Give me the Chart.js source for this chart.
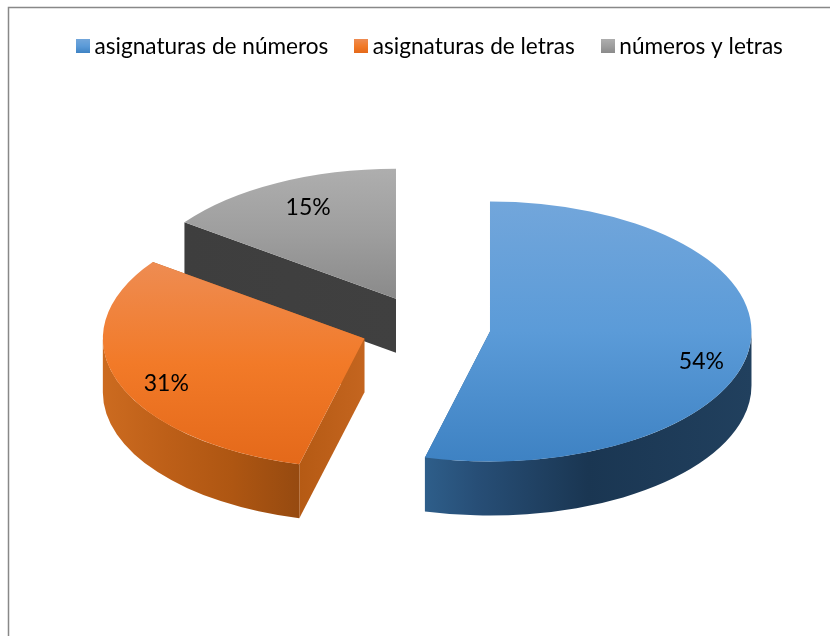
<!DOCTYPE html>
<html><head><meta charset="utf-8">
<style>html,body{margin:0;padding:0;background:#fff}canvas{display:block}</style>
<script src="https://cdn.jsdelivr.net/npm/chart.js@4/dist/chart.umd.min.js"></script>
</head><body><canvas id="c" width="830" height="636"></canvas>
<script>
const categories = ['asignaturas de números', 'asignaturas de letras', 'números y letras'];
const values = [54, 31, 15];
const explodePx = [65, 65, 65];
const topStops = [['#72a6db', '#5b9bd8', '#3e82c3'], ['#ee8c52', '#f27a28', '#e4691a'], ['#aeaeae', '#9e9e9e', '#8a8a8a']];
const wallStops = [['#2e5e8a', '#274e76', '#1a3652', '#21405e'], ['#cc6b20', '#bd5f18', '#ae5612', '#964a10'], ['#404040', '#404040', '#404040', '#404040']];
const wallOffsets = [[0, 0.16, 0.5, 1], [0, 0.33, 0.66, 1], [0, 0.33, 0.66, 1]];
const cutStops = [['#2e5e8a', '#2e5e8a'], ['#b55a14', '#c4651f'], ['#3e3e3e', '#404040']];
const labelRadius = [0.815, 0.805, 0.74];
const labelNudgeY = [17, 10, -5];
const RADIUS = 261.5, SQUASH = 0.497, DEPTH = 54, CENTER = {x: 425.5, y: 327.5};
const FONT = 'Lato, sans-serif';
const total = values.reduce((a, b) => a + b, 0);

function angles(i) {
  let s = -Math.PI / 2;
  for (let k = 0; k < i; k++) s += values[k] / total * Math.PI * 2;
  return [s, s + values[i] / total * Math.PI * 2];
}
function extent(i) {
  const [s, e] = angles(i);
  const pts = [Math.sin(s), Math.sin(e), 0];
  for (let a = -Math.PI / 2; a <= Math.PI * 1.5 + 1e-6; a += Math.PI) if (a > s && a < e) pts.push(Math.sin(a));
  return [Math.min(...pts), Math.max(...pts)];
}
function fillTop(c) {
  if (c.dataIndex === undefined || !c.chart.chartArea) return '#888';
  const a = c.chart.chartArea, cy = (a.top + a.bottom) / 2, [y0, y1] = extent(c.dataIndex);
  const g = c.chart.ctx.createLinearGradient(0, cy + y0 * RADIUS, 0, cy + y1 * RADIUS);
  topStops[c.dataIndex].forEach((col, k, arr) => g.addColorStop(k / (arr.length - 1), col));
  return g;
}
const swatches = topStops.map(st => {
  const cv = document.createElement('canvas'); cv.width = 14; cv.height = 14;
  const x = cv.getContext('2d'), g = x.createLinearGradient(0, 0, 0, 14);
  st.forEach((col, k, arr) => g.addColorStop(k / (arr.length - 1), col));
  x.fillStyle = g; x.fillRect(0, 0, 14, 14);
  return cv;
});

const frame = {
  id: 'frame',
  beforeDraw(chart) {
    const x = chart.ctx; x.save();
    x.fillStyle = '#fff'; x.fillRect(0, 0, chart.width, chart.height);
    x.strokeStyle = '#888'; x.lineWidth = 1.5;
    x.beginPath(); x.moveTo(8.5, chart.height); x.lineTo(8.5, 7.5); x.lineTo(chart.width, 7.5); x.stroke();
    x.restore();
  }
};
const pie3d = {
  id: 'pie3d',
  beforeDatasetDraw(chart, args) {
    const x = chart.ctx, arcs = args.meta.data;
    const centers = arcs.map((el, i) => {
      const [s, e] = angles(i), m = (s + e) / 2;
      return {x: CENTER.x + Math.cos(m) * explodePx[i], y: CENTER.y + Math.sin(m) * explodePx[i] * SQUASH, s, e, m};
    });
    const ry = RADIUS * SQUASH;
    [2, 1, 0].forEach(i => {
      const c = centers[i], el = arcs[i];
      const face = a => {
        const px = c.x + Math.cos(a) * RADIUS, py = c.y + Math.sin(a) * ry;
        const g = x.createLinearGradient(Math.min(px, c.x), 0, Math.max(px, c.x), 0);
        g.addColorStop(0, cutStops[i][0]); g.addColorStop(1, cutStops[i][1]);
        x.fillStyle = g; x.beginPath();
        x.moveTo(c.x, c.y); x.lineTo(px, py); x.lineTo(px, py + DEPTH); x.lineTo(c.x, c.y + DEPTH);
        x.closePath(); x.fill();
      };
      face(c.e); face(c.s);
      const a0 = Math.max(c.s, 0), a1 = Math.min(c.e, Math.PI);
      if (a1 > a0) {
        const xs = [a0, a1].map(a => c.x + Math.cos(a) * RADIUS);
        const g = x.createLinearGradient(Math.min(...xs), 0, Math.max(...xs), 0);
        wallStops[i].forEach((col, k) => g.addColorStop(wallOffsets[i][k], col));
        x.fillStyle = g; x.beginPath();
        x.ellipse(c.x, c.y, RADIUS, ry, 0, a0, a1);
        x.ellipse(c.x, c.y + DEPTH, RADIUS, ry, 0, a1, a0, true);
        x.closePath(); x.fill();
      }
      x.save();
      x.translate(c.x, c.y); x.scale(1, SQUASH); x.translate(-el.x, -el.y);
      el.draw(x);
      x.restore();
    });
    x.save();
    x.fillStyle = '#000'; x.font = '23px ' + FONT; x.textAlign = 'center'; x.textBaseline = 'middle';
    values.forEach((v, i) => {
      const c = centers[i], r = RADIUS * labelRadius[i];
      x.fillText(Math.round(v / total * 100) + '%', c.x + Math.cos(c.m) * r, c.y + Math.sin(c.m) * r * SQUASH + labelNudgeY[i]);
    });
    x.restore();
    return false;
  }
};

new Chart(document.getElementById('c'), {
  type: 'pie',
  data: {labels: categories, datasets: [{data: values, backgroundColor: fillTop, borderWidth: 0, hoverOffset: 0}]},
  options: {
    responsive: false, devicePixelRatio: 1, animation: false, radius: RADIUS,
    layout: {padding: {left: 36, top: 2}},
    plugins: {
      tooltip: {enabled: false},
      legend: {
        position: 'top',
        labels: {
          usePointStyle: true, pointStyleWidth: 0.1, padding: 33, color: '#000',
          font: {family: FONT, size: 22.6},
          generateLabels: () => categories.map((t, i) => ({text: t, pointStyle: swatches[i], fillStyle: topStops[i][1], strokeStyle: topStops[i][1], lineWidth: 0, hidden: false, index: i, datasetIndex: 0, fontColor: '#000'}))
        }
      }
    }
  },
  plugins: [frame, pie3d]
});
</script></body></html>
